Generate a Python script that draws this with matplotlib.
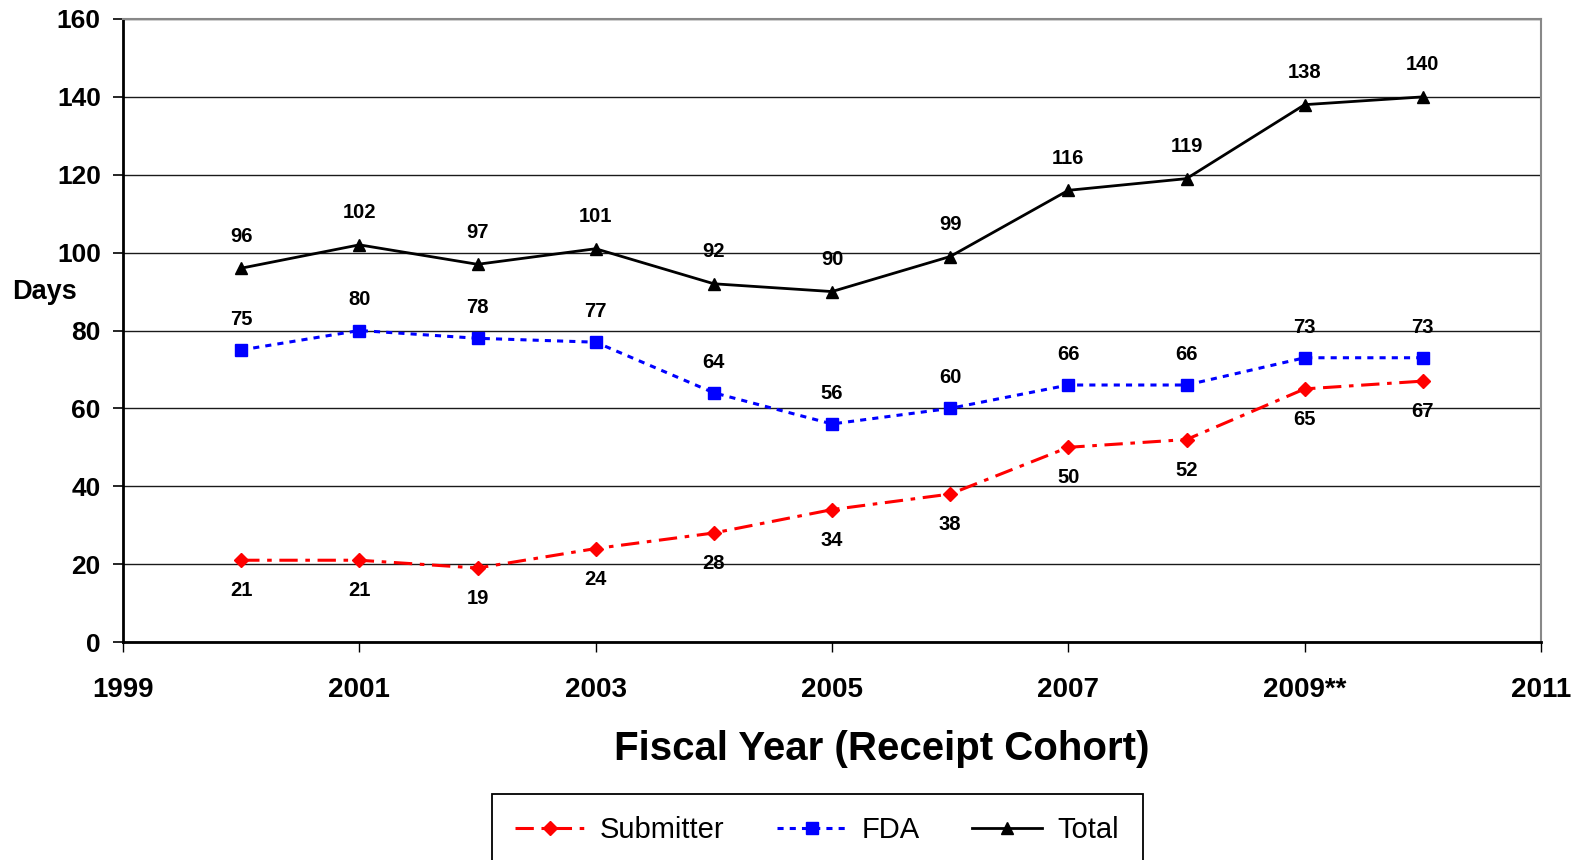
import numpy as np
import matplotlib
matplotlib.use('Agg')
import matplotlib.pyplot as plt
from matplotlib.patches import Rectangle

plt.rcParams['font.family'] = ['Liberation Sans', 'DejaVu Sans']

years = [2000, 2001, 2002, 2003, 2004, 2005, 2006, 2007, 2008, 2009, 2010]
submitter = [21, 21, 19, 24, 28, 34, 38, 50, 52, 65, 67]
fda = [75, 80, 78, 77, 64, 56, 60, 66, 66, 73, 73]
total = [96, 102, 97, 101, 92, 90, 99, 116, 119, 138, 140]
xtick_vals = [1999, 2001, 2003, 2005, 2007, 2009, 2011]
xtick_labels = ['1999', '2001', '2003', '2005', '2007', '2009**', '2011']

W, H = 1583, 860
fig = plt.figure(figsize=(W / 100, H / 100), dpi=100)
left, right, top, bottom = 123, 1541, 19, 642
ax = fig.add_axes([left / W, 1 - bottom / H, (right - left) / W, (bottom - top) / H])

ax.plot(years, submitter, color='#ff0000', lw=2.2, dashes=(6, 2.5, 1.5, 2.5),
        marker='D', ms=7, label='Submitter', zorder=3)
ax.plot(years, fda, color='#0000ff', lw=2.2, dashes=(2, 2),
        marker='s', ms=8.5, label='FDA', zorder=3)
ax.plot(years, total, color='black', lw=2.0, marker='^', ms=8.5,
        label='Total', zorder=3)

# data labels
lab_kw = dict(textcoords='offset points', ha='center', va='center',
              fontsize=14.5, fontweight='bold')
for x, v in zip(years, total):
    ax.annotate(str(v), (x, v), xytext=(0, 23), **lab_kw)
for x, v in zip(years, fda):
    ax.annotate(str(v), (x, v), xytext=(0, 22), **lab_kw)
for x, v in zip(years, submitter):
    ax.annotate(str(v), (x, v), xytext=(0, -22), **lab_kw)

ax.set_xlim(1999, 2011)
ax.set_ylim(0, 160)
ax.set_yticks(np.arange(0, 161, 20))
ax.set_xticks(xtick_vals)
ax.set_xticklabels(xtick_labels)
ax.yaxis.grid(True, color='#1a1a1a', lw=1.0)
ax.set_axisbelow(True)

for lab in ax.get_xticklabels() + ax.get_yticklabels():
    lab.set_fontweight('bold')
ax.tick_params(axis='y', direction='out', length=7, width=1.2, pad=9, labelsize=19)
ax.tick_params(axis='x', direction='out', length=7, width=1.0, pad=18, labelsize=20)

ax.spines['left'].set_linewidth(2.0)
ax.spines['bottom'].set_linewidth(2.0)
ax.spines['top'].set_color('#888888')
ax.spines['right'].set_color('#888888')
ax.spines['top'].set_linewidth(1.5)
ax.spines['right'].set_linewidth(1.5)

fig.text(12 / W, 1 - 292 / H, 'Days', ha='left', va='center',
         fontsize=19.5, fontweight='bold')
fig.text(882 / W, 1 - 749 / H, 'Fiscal Year (Receipt Cohort)', ha='center',
         va='center', fontsize=29, fontweight='bold')

# legend box runs off the bottom edge, as in the original
fig.patches.append(Rectangle((492 / W, -0.05), (1143 - 492) / W, 0.05 + 1 - 794 / H,
                             transform=fig.transFigure, fill=False,
                             edgecolor='black', lw=1.3))
leg = fig.legend(loc='center', bbox_to_anchor=(817 / W, 1 - 830 / H),
                 ncol=3, fontsize=21, frameon=False, handlelength=2.4,
                 handletextpad=0.5, columnspacing=1.8, borderaxespad=0)

fig.savefig('out.png', dpi=100)
